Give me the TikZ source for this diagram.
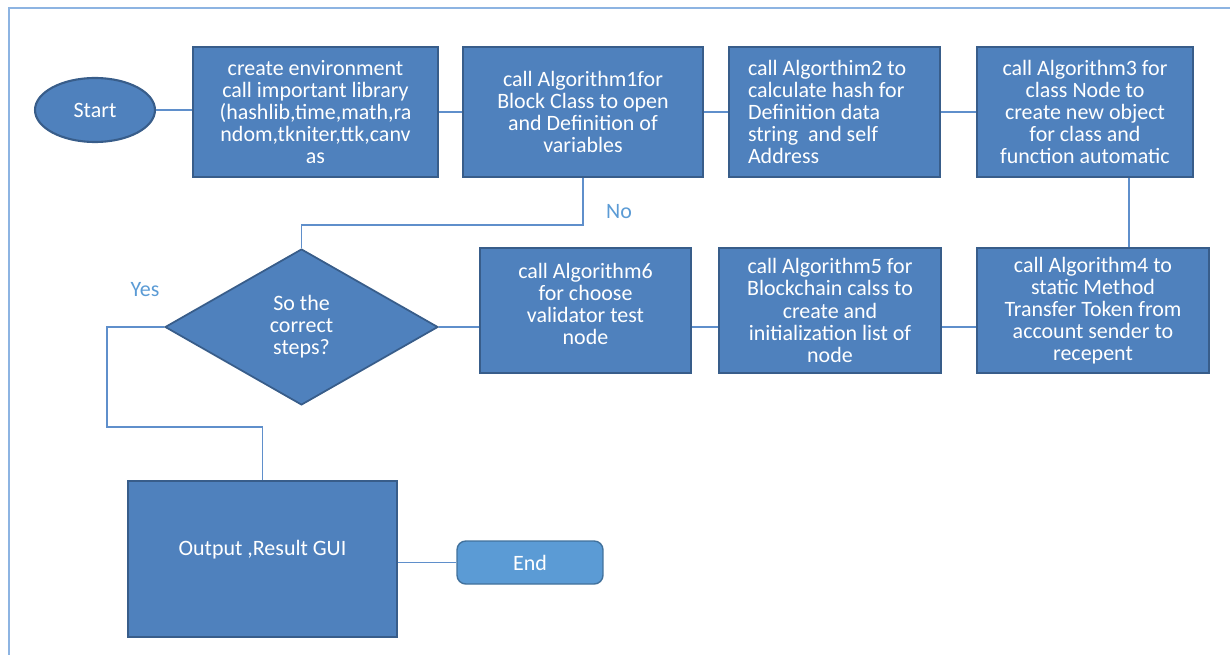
\documentclass[tikz,border=0pt]{standalone}
\usepackage{fontspec}
\setmainfont{Carlito}
\usetikzlibrary{shapes.geometric}

\definecolor{boxblue}{HTML}{4F81BD}
\definecolor{boxedge}{HTML}{385D8A}
\definecolor{endblue}{HTML}{5B9BD5}
\definecolor{endedge}{HTML}{41719C}
\definecolor{lineblue}{HTML}{5F8FCB}
\definecolor{frameblue}{HTML}{8DB4E2}

\tikzset{
    stepbox/.style={draw=boxedge, fill=boxblue, line width=1.2pt, text=white,
        align=center, inner sep=2pt, minimum height=2.6cm},
    flow/.style={draw=lineblue, line width=0.8pt},
    branchlabel/.style={text=endblue, inner sep=0pt}
}

\begin{document}
\begin{tikzpicture}[x=0.02cm, y=-0.02cm, font=\fontsize{12.5}{12.6}\selectfont]
    \useasboundingbox (0,0) rectangle (1230,655);
    \draw [frameblue, line width=0.8pt] (9,655) -- (9,8) -- (1230,8);

    % first row
    \node [ellipse, draw=boxedge, fill=boxblue, line width=1.2pt, text=white,
        minimum width=2.4cm, minimum height=1.28cm] (start) at (95,110) {Start};
    \node [stepbox, minimum width=4.9cm] (env) at (315.5,112)
        {create environment\\call important library\\(hashlib,time,math,ra\\ndom,tkniter,ttk,canv\\as};
    \node [stepbox, minimum width=4.8cm] (alg1) at (583,112)
        {call Algorithm1for\\Block Class to open\\and Definition of\\variables};
    \node [stepbox, minimum width=4.22cm, align=flush left, text width=3.46cm] (alg2) at (834.5,112)
        {call Algorthim2 to\\calculate hash for\\Definition data\\string~ and self\\Address};
    \node [stepbox, minimum width=4.32cm] (alg3) at (1085,112)
        {call Algorithm3 for\\class Node to\\create new object\\for class and\\function automatic};

    % second row
    \node [stepbox, minimum width=4.64cm, minimum height=2.5cm] (alg4) at (1093,310.5)
        {call Algorithm4 to\\static Method\\Transfer Token from\\account sender to\\recepent};
    \node [stepbox, minimum width=4.44cm, minimum height=2.5cm] (alg5) at (830,310.5)
        {call Algorithm5 for\\Blockchain calss to\\create and\\initialization list of\\node};
    \node [stepbox, minimum width=4.22cm, minimum height=2.5cm] (alg6) at (585.5,310.5)
        {call Algorithm6\\for choose\\validator test\\node\\[-0.8ex]};
    \node [diamond, draw=boxedge, fill=boxblue, line width=1pt, text=white, align=center,
        inner sep=0pt, minimum width=5.46cm, minimum height=3.12cm] (dec) at (301.5,327)
        {So the\\correct\\steps?};

    % last row
    \node [stepbox, minimum width=5.38cm, minimum height=3.12cm] (out) at (262.5,559)
        {Output ,Result GUI\\};
    \node [draw=endedge, fill=endblue, line width=0.8pt, rounded corners=5pt, text=white,
        minimum width=2.92cm, minimum height=0.86cm] (end) at (530,562.5) {End};

    \coordinate (nobend) at (583,225);
    \coordinate (yesbend) at (107,427);
    \node [branchlabel] (nolabel) at (619,212) {No};
    \node [branchlabel] (yeslabel) at (145,290) {Yes};

    \draw [flow] (start.east) -- (env.west |- start.east);
    \draw [flow] (env.east) -- (alg1.west);
    \draw [flow] (alg1.east) -- (alg2.west);
    \draw [flow] (alg2.east) -- (alg3.west);
    \draw [flow] ([xshift=0.88cm]alg3.south) -- ([xshift=0.88cm]alg3.south |- alg4.north);
    \draw [flow] (alg4.west |- dec.east) -- (alg5.east |- dec.east);
    \draw [flow] (alg5.west |- dec.east) -- (alg6.east |- dec.east);
    \draw [flow] (alg6.west |- dec.east) -- (dec.east);
    \draw [flow] (alg1.south) -- (nobend) -| (dec.north);
    \draw [flow] (dec.west) -| (yesbend) -| (out.north);
    \draw [flow] (out.east |- end.west) -- (end.west);
\end{tikzpicture}
\end{document}
